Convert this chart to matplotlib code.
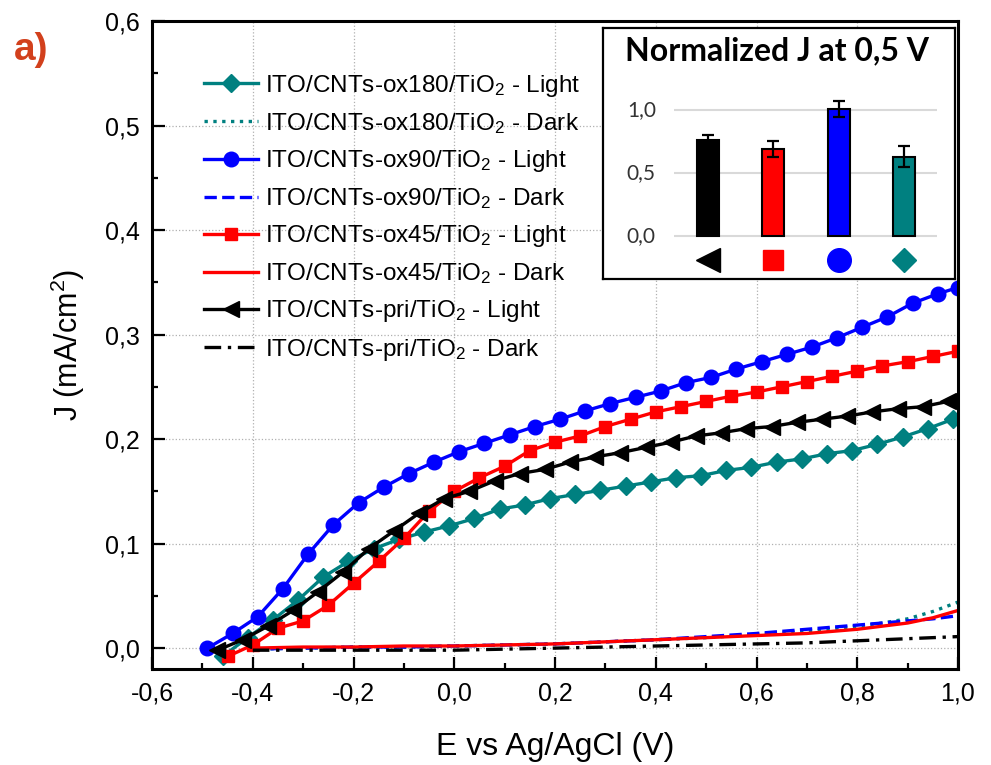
import matplotlib
matplotlib.use("Agg")
import matplotlib.pyplot as plt
from matplotlib.ticker import MultipleLocator, FuncFormatter

plt.rcParams['font.family'] = ['Liberation Sans', 'DejaVu Sans']
plt.rcParams['mathtext.default'] = 'regular'

# ---- main J-E data ----
E_ox180 = [-0.46, -0.41, -0.36, -0.31, -0.26, -0.21, -0.16, -0.11, -0.06, -0.01,
           0.04, 0.09, 0.14, 0.19, 0.24, 0.29, 0.34, 0.39, 0.44, 0.49,
           0.54, 0.59, 0.64, 0.69, 0.74, 0.79, 0.84, 0.89, 0.94, 0.99]
J_ox180 = [-0.008, 0.010, 0.027, 0.046, 0.068, 0.083, 0.095, 0.104, 0.111, 0.117,
           0.124, 0.133, 0.137, 0.143, 0.147, 0.151, 0.155, 0.159, 0.163, 0.165,
           0.170, 0.173, 0.178, 0.181, 0.186, 0.189, 0.195, 0.202, 0.210, 0.219]

E_ox90 = [-0.49, -0.44, -0.39, -0.34, -0.29, -0.24, -0.19, -0.14, -0.09, -0.04,
          0.01, 0.06, 0.11, 0.16, 0.21, 0.26, 0.31, 0.36, 0.41, 0.46,
          0.51, 0.56, 0.61, 0.66, 0.71, 0.76, 0.81, 0.86, 0.91, 0.96, 1.00]
J_ox90 = [0.000, 0.014, 0.030, 0.057, 0.090, 0.118, 0.139, 0.154, 0.167, 0.178,
          0.188, 0.196, 0.204, 0.212, 0.219, 0.227, 0.234, 0.240, 0.246, 0.254,
          0.259, 0.267, 0.274, 0.281, 0.288, 0.297, 0.307, 0.317, 0.330, 0.339, 0.345]

E_ox45 = [-0.45, -0.40, -0.35, -0.30, -0.25, -0.20, -0.15, -0.10, -0.05, 0.00,
          0.05, 0.10, 0.15, 0.20, 0.25, 0.30, 0.35, 0.40, 0.45, 0.50,
          0.55, 0.60, 0.65, 0.70, 0.75, 0.80, 0.85, 0.90, 0.95, 1.00]
J_ox45 = [-0.008, 0.003, 0.019, 0.026, 0.041, 0.062, 0.083, 0.105, 0.131, 0.150,
          0.163, 0.174, 0.189, 0.197, 0.203, 0.212, 0.219, 0.226, 0.231, 0.236,
          0.241, 0.245, 0.250, 0.255, 0.260, 0.265, 0.270, 0.274, 0.279, 0.284]

E_pri = [-0.47, -0.42, -0.37, -0.32, -0.27, -0.22, -0.17, -0.12, -0.07, -0.02,
         0.03, 0.08, 0.13, 0.18, 0.23, 0.28, 0.33, 0.38, 0.43, 0.48,
         0.53, 0.58, 0.63, 0.68, 0.73, 0.78, 0.83, 0.88, 0.93, 0.98]
J_pri = [-0.002, 0.008, 0.021, 0.036, 0.054, 0.073, 0.095, 0.112, 0.129, 0.143,
         0.150, 0.160, 0.167, 0.171, 0.178, 0.183, 0.187, 0.192, 0.197, 0.203,
         0.206, 0.210, 0.212, 0.216, 0.219, 0.222, 0.226, 0.229, 0.231, 0.236]

# dark curves
E_dark = [-0.40, -0.30, -0.20, -0.10, 0.00, 0.10, 0.20, 0.30, 0.40, 0.50,
          0.60, 0.70, 0.80, 0.85, 0.90, 0.95, 1.00]
Jd_ox180 = [-0.001, 0.000, 0.001, 0.001, 0.002, 0.003, 0.004, 0.006, 0.008, 0.010,
            0.013, 0.016, 0.021, 0.024, 0.028, 0.035, 0.044]
Jd_ox90 = [-0.001, 0.000, 0.001, 0.001, 0.002, 0.003, 0.004, 0.006, 0.008, 0.011,
           0.014, 0.018, 0.022, 0.024, 0.026, 0.028, 0.031]
Jd_ox45 = [0.000, 0.001, 0.001, 0.002, 0.002, 0.003, 0.004, 0.006, 0.008, 0.010,
           0.012, 0.014, 0.018, 0.021, 0.024, 0.029, 0.036]
Jd_pri = [-0.002, -0.002, -0.002, -0.002, -0.002, -0.001, 0.000, 0.001, 0.002, 0.003,
          0.004, 0.005, 0.007, 0.008, 0.009, 0.010, 0.011]

# inset: normalized J at 0.5 V
norm_J = [0.76, 0.69, 1.01, 0.63]
norm_err = [0.045, 0.062, 0.062, 0.085]
bar_colors = ['black', '#ff0000', '#0000ff', '#008080']
bar_markers = ['<', 's', 'o', 'D']
bar_msize = [17, 15, 17, 12]

teal, blue, red = '#008080', '#0000ff', '#ff0000'

fig = plt.figure(figsize=(9.91, 7.65), dpi=100)
ax = fig.add_axes([152/991, (765-669)/765, (958-152)/991, (669-21)/765])

lw = 2.4
ax.plot(E_ox180, J_ox180, '-', color=teal, lw=lw, marker='D', ms=9.5,
        label='ITO/CNTs-ox180/TiO$_2$ - Light')
ax.plot(E_dark, Jd_ox180, ':', color=teal, lw=2.4,
        label='ITO/CNTs-ox180/TiO$_2$ - Dark')
ax.plot(E_ox90, J_ox90, '-', color=blue, lw=lw, marker='o', ms=10.5,
        label='ITO/CNTs-ox90/TiO$_2$ - Light')
ax.plot(E_dark, Jd_ox90, '--', color=blue, lw=2.4,
        label='ITO/CNTs-ox90/TiO$_2$ - Dark')
ax.plot(E_ox45, J_ox45, '-', color=red, lw=lw, marker='s', ms=9,
        label='ITO/CNTs-ox45/TiO$_2$ - Light')
ax.plot(E_dark, Jd_ox45, '-', color=red, lw=2.4,
        label='ITO/CNTs-ox45/TiO$_2$ - Dark')
ax.plot(E_pri, J_pri, '-', color='black', lw=lw, marker='<', ms=12,
        label='ITO/CNTs-pri/TiO$_2$ - Light')
ax.plot(E_dark, Jd_pri, color='black', lw=2.4, linestyle=(0, (5, 2, 1, 2)),
        label='ITO/CNTs-pri/TiO$_2$ - Dark')

ax.set_xlim(-0.6, 1.0)
ax.set_ylim(-0.02, 0.6)
ax.xaxis.set_major_locator(MultipleLocator(0.2))
ax.xaxis.set_minor_locator(MultipleLocator(0.1))
ax.yaxis.set_major_locator(MultipleLocator(0.1))
ax.yaxis.set_minor_locator(MultipleLocator(0.05))
comma = FuncFormatter(lambda v, p: f"{v:.1f}".replace('.', ',').replace('-0,0', '0,0'))
ax.xaxis.set_major_formatter(comma)
ax.yaxis.set_major_formatter(comma)
ax.tick_params(which='major', direction='in', length=9, width=1.6, labelsize=18, pad=9)
ax.tick_params(which='minor', direction='in', length=4.5, width=1.6)
for s in ax.spines.values():
    s.set_linewidth(2.2)
ax.grid(True, which='major', linestyle=':', color='#b0b0b0', lw=0.9)
ax.set_axisbelow(True)

ax.set_xlabel('E vs Ag/AgCl (V)', fontsize=23, labelpad=19)
ax.set_ylabel('J (mA/cm$^2$)', fontsize=22, labelpad=13)

ax.legend(loc='upper left', bbox_to_anchor=(0.065, 0.92), frameon=False,
          fontsize=17.5, numpoints=1, handlelength=2.2, handletextpad=0.3,
          labelspacing=0.5, borderpad=0, borderaxespad=0)

fig.text(14/991, 1 - 50/765, 'a)', fontsize=28, fontweight='bold',
         color='#d2401c', va='center', ha='left')

# ---- inset bar chart ----
ins = fig.add_axes([603/991, (765-279)/765, (955-603)/991, (279-28)/765])
ins.set_xlim(-1.608, 3.78)
ins.set_ylim(-0.341, 1.651)
ins.set_xticks([])
ins.set_yticks([])
for s in ins.spines.values():
    s.set_linewidth(1.6)
ins.hlines([0.0, 0.5, 1.0], -0.52, 3.51, color='#d9d9d9', lw=1.5, zorder=1)
xpos = [0, 1, 2, 3]
ins.bar(xpos, norm_J, width=0.34, color=bar_colors, edgecolor='black',
        linewidth=1.5, zorder=2)
ins.errorbar(xpos, norm_J, yerr=norm_err, fmt='none', ecolor='black',
             elinewidth=1.6, capsize=4, capthick=1.6, zorder=3)
for v in [0.0, 0.5, 1.0]:
    ins.text(-0.80, v, f"{v:.1f}".replace('.', ','), ha='right', va='center',
             fontsize=15, family='Lato', color='#333333')
for x, c, m, ms in zip(xpos, bar_colors, bar_markers, bar_msize):
    ins.plot([x], [-0.19], marker=m, color=c, ms=ms, ls='none', clip_on=False)
ins.text(1.06, 1.468, 'Normalized J at 0,5 V', ha='center', va='center',
         fontsize=23, fontweight='bold', family='Lato')

fig.savefig('out.png', dpi=100)
